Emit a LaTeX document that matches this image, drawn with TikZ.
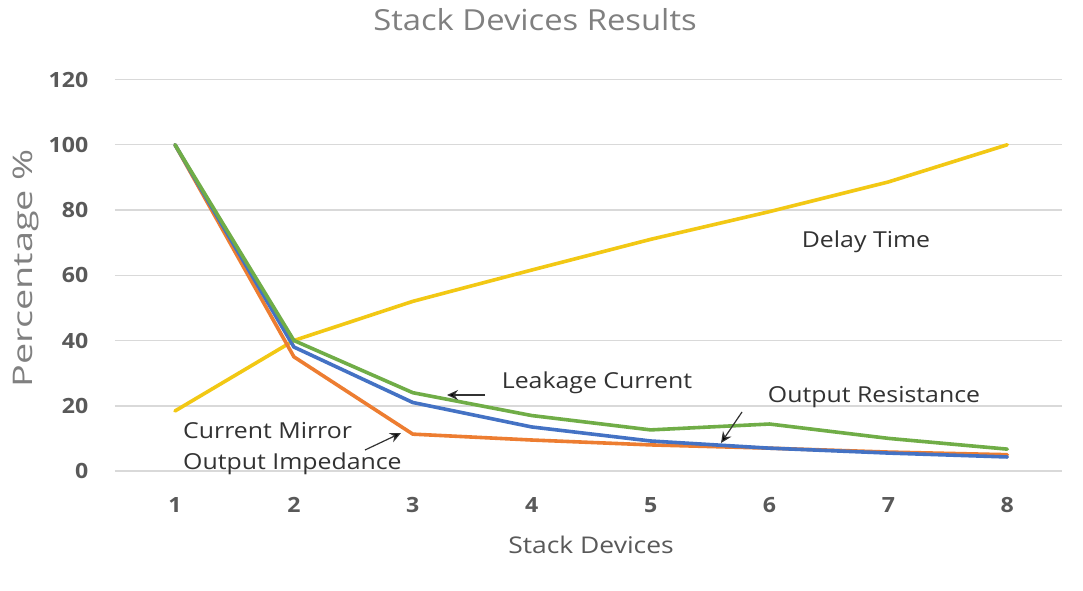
\documentclass[tikz,border=0pt]{standalone}
\usepackage{graphicx}
\usepackage{fontspec}
\setmainfont{Open Sans}
\usetikzlibrary{arrows.meta}
\definecolor{gridgray}{RGB}{217,217,217}
\definecolor{ticktext}{RGB}{89,89,89}
\definecolor{titletext}{RGB}{128,128,128}
\definecolor{labeltext}{RGB}{50,50,50}
\definecolor{delayc}{RGB}{242,200,20}
\definecolor{leakc}{RGB}{112,173,71}
\definecolor{resc}{RGB}{68,114,196}
\definecolor{mirrc}{RGB}{237,125,49}
% widen text horizontally
\newcommand{\wide}[2]{\scalebox{#1}[1]{#2}}
\tikzset{
  gridline/.style={draw=gridgray, line width=1.5pt},
  series/.style={line width=3.6pt, line join=round, line cap=round},
  ytick/.style={anchor=east, text=ticktext, font=\bfseries\fontsize{21}{25}\selectfont},
  xtick/.style={text=ticktext, font=\bfseries\fontsize{21}{25}\selectfont},
  curvelabel/.style={text=labeltext, font=\fontsize{22}{26}\selectfont, inner sep=0pt},
  pointer/.style={draw=labeltext, line width=1.2pt, -{Stealth[length=11pt,width=10pt,fill=black]}},
}
\begin{document}
\begin{tikzpicture}[x=1pt,y=1pt]
\useasboundingbox[fill=white] (0,0) rectangle (1083,590);

% title and axis titles
\node[text=titletext, font=\fontsize{29}{33}\selectfont] (title) at (535,570) {\wide{1.13}{Stack Devices Results}};
\node[text=ticktext, font=\fontsize{23}{27}\selectfont] (xtitle) at (591,45) {\wide{1.15}{Stack Devices}};
\node[text=titletext, font=\fontsize{27}{31}\selectfont, rotate=90] (ytitle) at (26,322) {\wide{1.4}{Percentage \%}};

\begin{scope}[shift={(175,119)}, x=118.9pt, y=3.2625pt]
  % horizontal grid and value labels
  \foreach \v in {0,20,...,120} {
    \draw[gridline] (-0.505,\v) -- (7.46,\v);
    \node[ytick] (yl\v) at (-0.7,\v) {\wide{1.1}{\v}};
  }
  % category labels
  \foreach \i in {1,...,8} {
    \node[xtick] (xl\i) at (\i-1,-10.4) {\wide{1.1}{\i}};
  }
  % data series
  \draw[series, delayc] (0,18.4) -- (1,40) -- (2,52) -- (3,61.6) -- (4,71) -- (5,79.5) -- (6,88.6) -- (7,100);
  \draw[series, mirrc]  (0,100) -- (1,35) -- (2,11.3) -- (3,9.5) -- (4,8) -- (5,7) -- (6,5.8) -- (7,5);
  \draw[series, resc]   (0,100) -- (1,38) -- (2,21) -- (3,13.5) -- (4,9.2) -- (5,7) -- (6,5.5) -- (7,4.3);
  \draw[series, leakc]  (0,100) -- (1,40) -- (2,24) -- (3,17) -- (4,12.6) -- (5,14.4) -- (6,10) -- (7,6.7);
\end{scope}

% curve labels
\node[curvelabel] (delay) at (866,348) {\wide{1.13}{Delay Time}};
\node[curvelabel] (leak) at (597,207) {\wide{1.13}{Leakage Current}};
\node[curvelabel] (outres) at (874,193) {\wide{1.13}{Output Resistance}};
\node[curvelabel, anchor=west] (mirr1) at (183,159) {\wide{1.13}{Current Mirror}};
\node[curvelabel, anchor=west] (mirr2) at (183,126) {\wide{1.13}{Output Impedance}};

% pointers from labels to curves
\coordinate (leakTail) at (485,195);
\coordinate (leakTip) at (447,195);
\coordinate (resTail) at (742,178);
\coordinate (resTip) at (721,147);
\coordinate (mirrTail) at (365,140);
\coordinate (mirrTip) at (401,157);
\draw[pointer] (leakTail) -- (leakTip);
\draw[pointer] (resTail) -- (resTip);
\draw[pointer] (mirrTail) -- (mirrTip);
\end{tikzpicture}
\end{document}
